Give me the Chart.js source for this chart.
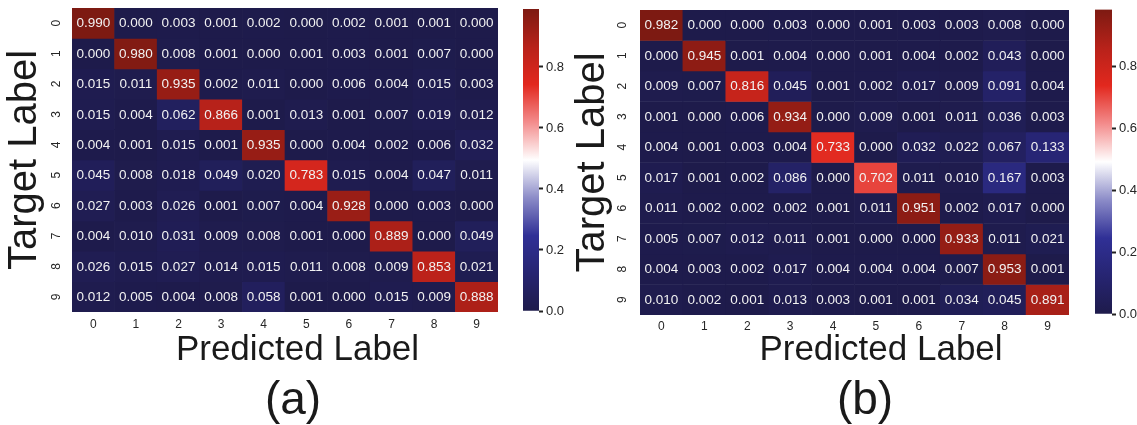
<!DOCTYPE html>
<html>
<head>
<meta charset="utf-8">
<script src="https://cdn.jsdelivr.net/npm/chart.js@4.4.1/dist/chart.umd.min.js"></script>
<style>
  body { margin: 0; width: 1137px; height: 425px; position: relative; overflow: hidden; background: #fff; }
  canvas { position: absolute; top: 0; }
  .caption { position: absolute; width: 200px; text-align: center; font: 46px/46px "Liberation Sans", Arial, sans-serif; color: #1a1a1a; }
</style>
</head>
<body>
<canvas id="heatA" width="595" height="425" style="left:0px"></canvas>
<canvas id="barA" width="60" height="425" style="left:523px"></canvas>
<canvas id="heatB" width="626" height="425" style="left:568px"></canvas>
<canvas id="barB" width="60" height="425" style="left:1095px"></canvas>
<div class="caption" style="left:193px; top:375px">(a)</div>
<div class="caption" style="left:765px; top:375px">(b)</div>
<script>
const colLabels = ["0", "1", "2", "3", "4", "5", "6", "7", "8", "9"];
const rowLabels = ["0", "1", "2", "3", "4", "5", "6", "7", "8", "9"];
const colorbarTicks = [0, 0.2, 0.4, 0.6, 0.8];

const matrixA = [
  [0.990, 0.000, 0.003, 0.001, 0.002, 0.000, 0.002, 0.001, 0.001, 0.000],
  [0.000, 0.980, 0.008, 0.001, 0.000, 0.001, 0.003, 0.001, 0.007, 0.000],
  [0.015, 0.011, 0.935, 0.002, 0.011, 0.000, 0.006, 0.004, 0.015, 0.003],
  [0.015, 0.004, 0.062, 0.866, 0.001, 0.013, 0.001, 0.007, 0.019, 0.012],
  [0.004, 0.001, 0.015, 0.001, 0.935, 0.000, 0.004, 0.002, 0.006, 0.032],
  [0.045, 0.008, 0.018, 0.049, 0.020, 0.783, 0.015, 0.004, 0.047, 0.011],
  [0.027, 0.003, 0.026, 0.001, 0.007, 0.004, 0.928, 0.000, 0.003, 0.000],
  [0.004, 0.010, 0.031, 0.009, 0.008, 0.001, 0.000, 0.889, 0.000, 0.049],
  [0.026, 0.015, 0.027, 0.014, 0.015, 0.011, 0.008, 0.009, 0.853, 0.021],
  [0.012, 0.005, 0.004, 0.008, 0.058, 0.001, 0.000, 0.015, 0.009, 0.888],
];

const matrixB = [
  [0.982, 0.000, 0.000, 0.003, 0.000, 0.001, 0.003, 0.003, 0.008, 0.000],
  [0.000, 0.945, 0.001, 0.004, 0.000, 0.001, 0.004, 0.002, 0.043, 0.000],
  [0.009, 0.007, 0.816, 0.045, 0.001, 0.002, 0.017, 0.009, 0.091, 0.004],
  [0.001, 0.000, 0.006, 0.934, 0.000, 0.009, 0.001, 0.011, 0.036, 0.003],
  [0.004, 0.001, 0.003, 0.004, 0.733, 0.000, 0.032, 0.022, 0.067, 0.133],
  [0.017, 0.001, 0.002, 0.086, 0.000, 0.702, 0.011, 0.010, 0.167, 0.003],
  [0.011, 0.002, 0.002, 0.002, 0.001, 0.011, 0.951, 0.002, 0.017, 0.000],
  [0.005, 0.007, 0.012, 0.011, 0.001, 0.000, 0.000, 0.933, 0.011, 0.021],
  [0.004, 0.003, 0.002, 0.017, 0.004, 0.004, 0.004, 0.007, 0.953, 0.001],
  [0.010, 0.002, 0.001, 0.013, 0.003, 0.001, 0.001, 0.034, 0.045, 0.891],
];

// seismic-like map, as it looks after print conversion
const cmapStops = [
  [0.0, [30, 27, 75]],
  [0.12, [38, 36, 112]],
  [0.25, [48, 48, 150]],
  [0.375, [140, 140, 200]],
  [0.5, [255, 255, 255]],
  [0.625, [243, 140, 140]],
  [0.75, [226, 40, 30]],
  [0.87, [185, 34, 26]],
  [1.0, [125, 26, 18]],
];

Chart.defaults.font.family = '"Liberation Sans", Arial, sans-serif';
Chart.defaults.color = "#262626";

function cmap(t) {
  t = Math.max(0, Math.min(1, t));
  for (let i = 1; i < cmapStops.length; i++) {
    const [t1, c1] = cmapStops[i];
    const [t0, c0] = cmapStops[i - 1];
    if (t <= t1) {
      const f = (t - t0) / (t1 - t0);
      const c = c0.map((v, k) => Math.round(v + (c1[k] - v) * f));
      return `rgb(${c[0]},${c[1]},${c[2]})`;
    }
  }
  return "rgb(125,26,18)";
}

const cellText = {
  id: "cellText",
  afterDatasetsDraw(chart) {
    const { ctx } = chart;
    const matrix = chart.options.plugins.cellText.matrix;
    ctx.save();
    ctx.font = '13.5px "Liberation Sans", Arial, sans-serif';
    ctx.fillStyle = "#f2f2f2";
    ctx.textAlign = "center";
    ctx.textBaseline = "middle";
    chart.data.datasets.forEach((ds, r) => {
      chart.getDatasetMeta(r).data.forEach((el, c) => {
        const { x, y, base } = el.getProps(["x", "y", "base"], true);
        ctx.fillText(matrix[r][c].toFixed(3), x, (y + base) / 2 + 0.5);
      });
    });
    ctx.restore();
  },
};

function makeHeatmap(id, matrix, o) {
  const vmax = Math.max(...matrix.flat());
  return new Chart(document.getElementById(id), {
    type: "bar",
    data: {
      labels: colLabels,
      datasets: matrix.map((row, r) => ({
        data: row.map(() => [r, r + 1]),
        backgroundColor: row.map((v) => cmap(v / vmax)),
        borderWidth: 0,
        barPercentage: 1,
        categoryPercentage: 1,
        grouped: false,
      })),
    },
    options: {
      responsive: false,
      animation: false,
      devicePixelRatio: 1,
      layout: { autoPadding: false, padding: { left: 0, right: 0, top: o.top, bottom: o.bottom } },
      scales: {
        x: {
          grid: { display: false },
          border: { display: false },
          ticks: { font: { size: 12 }, padding: o.xPad, crossAlign: "center", maxRotation: 0 },
          afterFit: (s) => { s.height = o.xHeight; s.paddingLeft = 0; s.paddingRight = 0; },
        },
        y: {
          type: "linear",
          reverse: true,
          min: 0,
          max: rowLabels.length,
          grid: { display: false },
          border: { display: false },
          afterBuildTicks: (s) => { s.ticks = rowLabels.map((_, i) => ({ value: i + 0.5 })); },
          ticks: {
            font: { size: 12 },
            padding: o.yPad,
            minRotation: 90,
            maxRotation: 90,
            crossAlign: "center",
            callback: (v) => rowLabels[Math.floor(v)],
          },
          title: {
            display: true,
            text: "Target Label",
            color: "#1a1a1a",
            font: { size: 40, lineHeight: 1 },
            padding: { top: 5, bottom: 0 },
          },
          afterFit: (s) => { s.width = 72; s.paddingTop = 0; s.paddingBottom = 0; },
        },
        gap: {
          type: "linear",
          position: "right",
          grid: { display: false },
          border: { display: false },
          ticks: { display: false },
          afterFit: (s) => { s.width = o.gap; s.paddingTop = 0; s.paddingBottom = 0; },
        },
      },
      plugins: {
        legend: { display: false },
        tooltip: { enabled: false },
        subtitle: {
          display: true,
          position: "bottom",
          text: "Predicted Label",
          color: "#1a1a1a",
          font: { size: 35, lineHeight: 1 },
          padding: { top: 1, bottom: 0 },
        },
        cellText: { matrix },
      },
    },
    plugins: [cellText],
  });
}

function makeColorbar(id, matrix, o) {
  const vmax = Math.max(...matrix.flat());
  return new Chart(document.getElementById(id), {
    type: "bar",
    data: {
      labels: [""],
      datasets: [{
        data: [[0, vmax]],
        borderWidth: 0,
        barPercentage: 1,
        categoryPercentage: 1,
        backgroundColor: (ctx) => {
          const chart = ctx.chart;
          if (!chart.chartArea) return "#fff";
          const ys = chart.scales.y;
          const g = chart.ctx.createLinearGradient(0, ys.getPixelForValue(0), 0, ys.getPixelForValue(vmax));
          cmapStops.forEach(([t, c]) => g.addColorStop(t, `rgb(${c[0]},${c[1]},${c[2]})`));
          return g;
        },
      }],
    },
    options: {
      responsive: false,
      animation: false,
      devicePixelRatio: 1,
      layout: { autoPadding: false, padding: { left: 0, right: 0, top: o.top, bottom: o.bottom } },
      scales: {
        x: { display: false },
        y: {
          position: "right",
          min: 0,
          max: vmax,
          border: { display: false },
          grid: { drawOnChartArea: false, drawTicks: true, tickLength: 4, tickWidth: 2, tickColor: "#222" },
          afterBuildTicks: (s) => { s.ticks = colorbarTicks.map((v) => ({ value: v })); },
          ticks: { font: { size: 13 }, padding: 3, callback: (v) => v.toFixed(1) },
          afterFit: (s) => { s.width = 60 - o.barWidth; s.paddingTop = 0; s.paddingBottom = 0; },
        },
      },
      plugins: { legend: { display: false }, tooltip: { enabled: false } },
    },
  });
}

makeHeatmap("heatA", matrixA, { top: 8, bottom: 57, xHeight: 20, xPad: 5, yPad: 4, gap: 97 });
makeColorbar("barA", matrixA, { top: 9, bottom: 114, barWidth: 16 });
makeHeatmap("heatB", matrixB, { top: 10, bottom: 57, xHeight: 17, xPad: 4, yPad: 6, gap: 125 });
makeColorbar("barB", matrixB, { top: 9.6, bottom: 111, barWidth: 17 });
</script>
</body>
</html>
